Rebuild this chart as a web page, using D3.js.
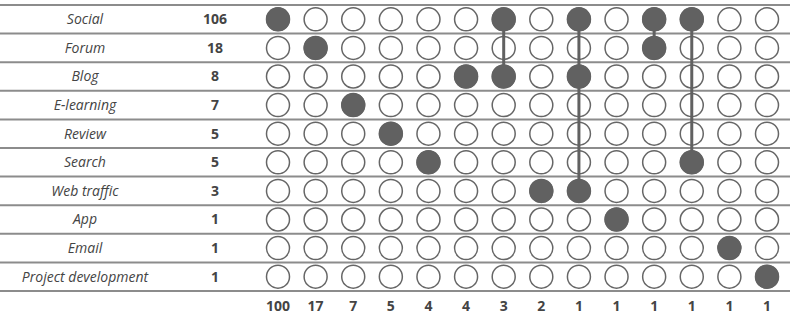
<!DOCTYPE html>
<html><head><meta charset="utf-8">
<script src="https://cdn.jsdelivr.net/npm/d3@7"></script>
<style>body{margin:0;background:#fff}svg{display:block}</style>
</head><body><svg id="c" width="793" height="317"></svg>
<script>
const categories = ["Social","Forum","Blog","E-learning","Review","Search","Web traffic","App","Email","Project development"];
const categoryCounts = [106,18,8,7,5,5,3,1,1,1];
const intersectionCounts = [100,17,7,5,4,4,3,2,1,1,1,1,1,1];
const intersectionSets = [
  ["Social"],["Forum"],["E-learning"],["Review"],["Search"],["Blog"],
  ["Social","Blog"],["Web traffic"],["Social","Blog","Web traffic"],["App"],
  ["Social","Forum"],["Social","Search"],["Email"],["Project development"]
];

const svg = d3.select("#c");
const font = "'Open Sans', sans-serif";
const y = d3.scaleBand().domain(categories).range([5, 291]).paddingInner(0).paddingOuter(0);
const x = d3.scalePoint().domain(d3.range(intersectionCounts.length)).range([278, 767]);
const r = 11.5;

const lineYs = categories.map(c => y(c)).concat([y.range()[1]]);
svg.selectAll("line.row").data(lineYs).join("line")
  .attr("x1", 0).attr("x2", 790).attr("y1", d => d).attr("y2", d => d)
  .attr("stroke", "#8c8c8c").attr("stroke-width", 2);

const cy = c => y(c) + y.bandwidth() / 2;

svg.selectAll("text.cat").data(categories).join("text")
  .attr("x", 85).attr("y", d => cy(d)).attr("dy", "0.35em")
  .attr("text-anchor", "middle").attr("font-family", font).attr("font-style", "italic")
  .attr("font-size", 14).attr("fill", "#444").text(d => d);

svg.selectAll("text.cnt").data(categories).join("text")
  .attr("x", 215).attr("y", d => cy(d)).attr("dy", "0.35em")
  .attr("text-anchor", "middle").attr("font-family", font).attr("font-weight", "bold")
  .attr("font-size", 14).attr("fill", "#444").text((d, i) => categoryCounts[i]);

const cells = [];
intersectionSets.forEach((s, j) => categories.forEach(c => cells.push({j, c, on: s.includes(c)})));
svg.selectAll("circle.cell").data(cells).join("circle")
  .attr("cx", d => x(d.j)).attr("cy", d => cy(d.c)).attr("r", r)
  .attr("fill", "#fff").attr("stroke", "#666").attr("stroke-width", 1.5);

intersectionSets.forEach((s, j) => {
  if (s.length < 2) return;
  const ys = s.map(cy);
  svg.append("line").attr("x1", x(j)).attr("x2", x(j))
    .attr("y1", d3.min(ys)).attr("y2", d3.max(ys))
    .attr("stroke", "#616161").attr("stroke-width", 3);
});

svg.selectAll("circle.on").data(cells.filter(d => d.on)).join("circle")
  .attr("cx", d => x(d.j)).attr("cy", d => cy(d.c)).attr("r", r + 0.5)
  .attr("fill", "#616161");

svg.selectAll("text.ic").data(intersectionCounts).join("text")
  .attr("x", (d, i) => x(i)).attr("y", 306).attr("dy", "0.35em")
  .attr("text-anchor", "middle").attr("font-family", font).attr("font-weight", "bold")
  .attr("font-size", 14).attr("fill", "#444").text(d => d);
</script></body></html>
